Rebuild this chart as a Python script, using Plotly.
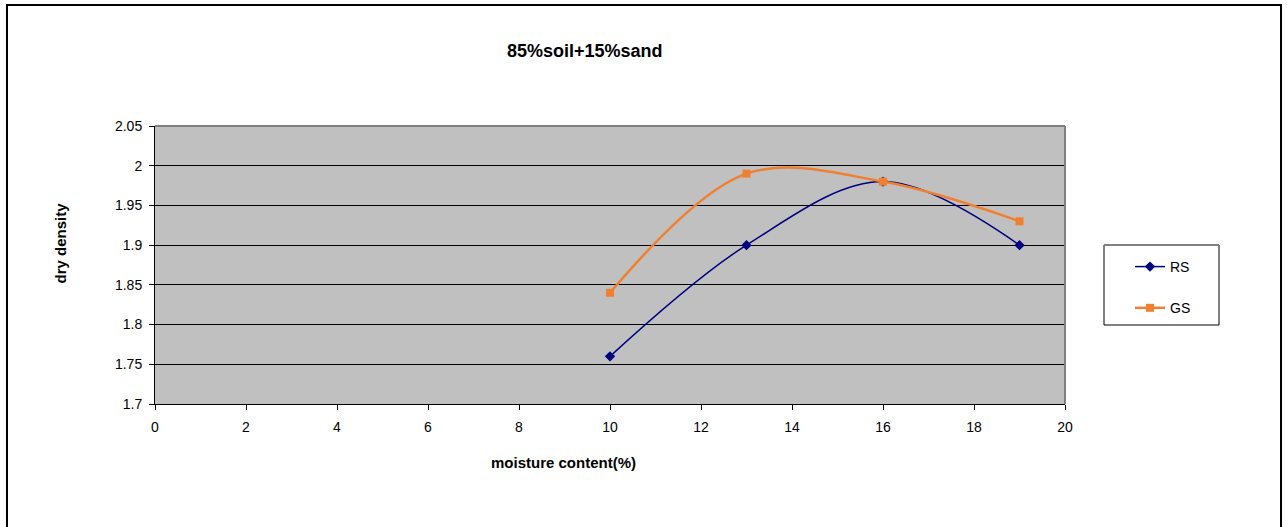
import plotly.graph_objects as go

moisture = [10, 13, 16, 19]
rs_density = [1.76, 1.90, 1.98, 1.90]
gs_density = [1.84, 1.99, 1.98, 1.93]
y_tickvals = [1.7, 1.75, 1.8, 1.85, 1.9, 1.95, 2.0, 2.05]
y_ticktext = ["1.7", "1.75", "1.8", "1.85", "1.9", "1.95", "2", "2.05"]
x_tickvals = [0, 2, 4, 6, 8, 10, 12, 14, 16, 18, 20]

W, H = 1287, 527
L, R, T, B = 155, 1065, 126, 404
pw, ph = R - L, B - T

def px(x):
    return (x - L) / pw

def py(y):
    return (B - y) / ph

font = "Liberation Sans, Arial, sans-serif"

fig = go.Figure()
fig.add_trace(go.Scatter(
    x=moisture, y=rs_density, name="RS", mode="lines+markers",
    line=dict(color="#000080", width=1.5, shape="spline", smoothing=1.0),
    marker=dict(symbol="diamond", size=8, color="#000080"),
    legendgroup="a",
))
fig.add_trace(go.Scatter(
    x=moisture, y=gs_density, name="GS", mode="lines+markers",
    line=dict(color="#F0802F", width=2.5, shape="spline", smoothing=1.0),
    marker=dict(symbol="square", size=8, color="#F0802F"),
    legendgroup="b",
))

fig.update_layout(
    width=W, height=H,
    margin=dict(l=L, r=W - R, t=T, b=H - B),
    paper_bgcolor="white",
    plot_bgcolor="#C0C0C0",
    font=dict(family=font, size=14, color="black"),
    showlegend=True,
    legend=dict(
        x=px(1130), y=py(251), xanchor="left", yanchor="top",
        borderwidth=0, bgcolor="rgba(0,0,0,0)",
        font=dict(family=font, size=14, color="black"),
        traceorder="grouped", tracegroupgap=20,
        itemwidth=30,
    ),
    xaxis=dict(
        range=[0, 20], tickvals=x_tickvals, showgrid=False, zeroline=False,
        showline=True, linecolor="black", linewidth=1,
        ticks="outside", ticklen=5, tickcolor="black",
        tickfont=dict(family=font, size=14), ticklabelstandoff=5,
    ),
    yaxis=dict(
        range=[1.7, 2.05], tickvals=y_tickvals, ticktext=y_ticktext,
        showgrid=True, gridcolor="black", gridwidth=1, zeroline=False,
        showline=True, linecolor="black", linewidth=1,
        ticks="outside", ticklen=5, tickcolor="black",
        tickfont=dict(family=font, size=14), ticklabelstandoff=4,
    ),
    shapes=[
        dict(type="rect", xref="paper", yref="paper",
             x0=px(7), x1=px(1281), y0=py(540), y1=py(5),
             line=dict(color="black", width=2), fillcolor="rgba(0,0,0,0)", layer="below"),
        dict(type="rect", xref="paper", yref="paper",
             x0=px(1104), x1=px(1219), y0=py(325), y1=py(245),
             line=dict(color="black", width=1), fillcolor="white", layer="below"),
        dict(type="line", xref="paper", yref="paper",
             x0=px(1104), x1=px(1219), y0=py(245), y1=py(245),
             line=dict(color="#808080", width=2)),
        dict(type="line", xref="paper", yref="paper",
             x0=0, x1=1, y0=1, y1=1, line=dict(color="#808080", width=2)),
        dict(type="line", xref="paper", yref="paper",
             x0=1, x1=1, y0=0, y1=1, line=dict(color="#808080", width=2)),
    ],
    annotations=[
        dict(text="<b>85%soil+15%sand</b>", xref="paper", yref="paper",
             x=px(585), y=py(39), showarrow=False,
             font=dict(family=font, size=18)),
        dict(text="<b>moisture content(%)</b>", xref="paper", yref="paper",
             x=px(563), y=py(473), showarrow=False,
             font=dict(family=font, size=15)),
        dict(text="<b>dry density</b>", xref="paper", yref="paper",
             x=px(49), y=py(243), showarrow=False, textangle=-90,
             font=dict(family=font, size=15)),
    ],
)

fig.write_html("out.html")
